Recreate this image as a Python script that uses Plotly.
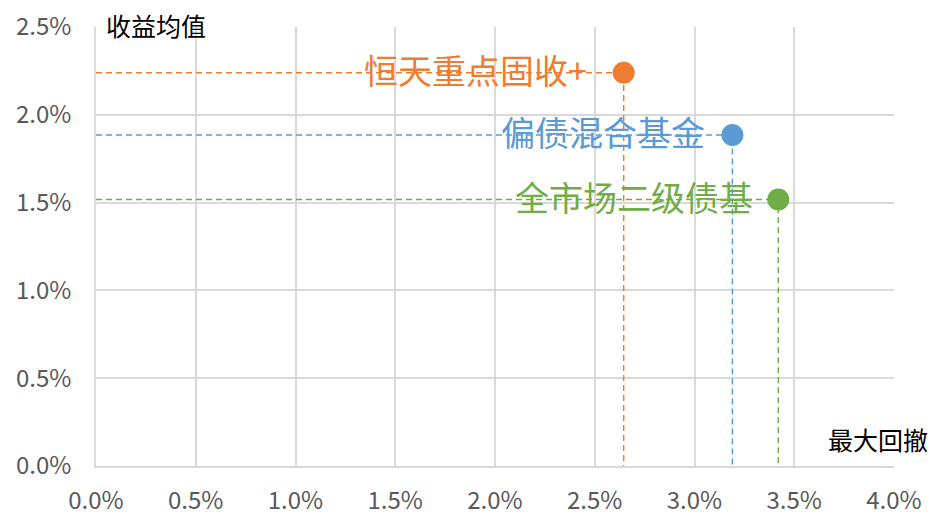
import plotly.graph_objects as go

# 最大回撤 (x) 与 收益均值 (y), 单位 %
names = ['恒天重点固收+', '偏债混合基金', '全市场二级债基']
drawdown = [2.645, 3.19, 3.42]
ret_mean = [2.24, 1.885, 1.518]
colors = ['#ED7D31', '#5B9BD5', '#70AD47']

x_ticks = [0, 0.5, 1.0, 1.5, 2.0, 2.5, 3.0, 3.5, 4.0]
y_ticks = [0, 0.5, 1.0, 1.5, 2.0, 2.5]

FONT = 'Noto Sans CJK SC'
label_shift = [-35, -25, -23]

fig = go.Figure()

for name, x, y, c, sh in zip(names, drawdown, ret_mean, colors, label_shift):
    # dashed guide lines to both axes
    fig.add_trace(go.Scatter(
        x=[0, x, x], y=[y, y, 0], mode='lines',
        line=dict(color=c, width=1.5, dash='6px,4px'),
        hoverinfo='skip', showlegend=False))
    fig.add_trace(go.Scatter(
        x=[x], y=[y], mode='markers', name=name,
        marker=dict(color=c, size=22), showlegend=False))
    fig.add_annotation(x=x, y=y, text=name, showarrow=False,
                       xanchor='right', yanchor='middle', xshift=sh, yshift=3,
                       font=dict(family=FONT, size=34, color=c))

fig.add_annotation(x=0, y=2.5, xref='x', yref='y', text='收益均值', showarrow=False,
                   xanchor='left', yanchor='middle', xshift=8, yshift=2,
                   font=dict(family=FONT, size=25, color='#000000'))
fig.add_annotation(x=4.0, y=0, xref='x', yref='y', text='最大回撤', showarrow=False,
                   xanchor='right', yanchor='middle', xshift=36, yshift=27,
                   font=dict(family=FONT, size=25, color='#000000'))

fig.update_xaxes(range=[0, 4.0], tickvals=x_ticks,
                 ticktext=['%.1f%%' % v for v in x_ticks],
                 showgrid=True, gridcolor='#D9D9D9', gridwidth=1.5,
                 zeroline=False, showline=True, linecolor='#D9D9D9', linewidth=1.5,
                 tickfont=dict(family=FONT, size=24, color='#595959'), ticks='',
                 ticklabelstandoff=12, ticklabeloverflow='allow', automargin=False)
fig.update_yaxes(range=[0, 2.5], tickvals=y_ticks,
                 ticktext=['%.1f%%' % v for v in y_ticks],
                 showgrid=True, gridcolor='#D9D9D9', gridwidth=1.5,
                 zeroline=False, showline=True, linecolor='#D9D9D9', linewidth=1.5,
                 tickfont=dict(family=FONT, size=24, color='#595959'), ticks='',
                 ticklabelstandoff=18, ticklabeloverflow='allow', automargin=False)

fig.update_layout(width=929, height=515,
                  margin=dict(l=88, r=43, t=19, b=57),
                  plot_bgcolor='white', paper_bgcolor='white',
                  showlegend=False)

fig.write_html('out.html')
